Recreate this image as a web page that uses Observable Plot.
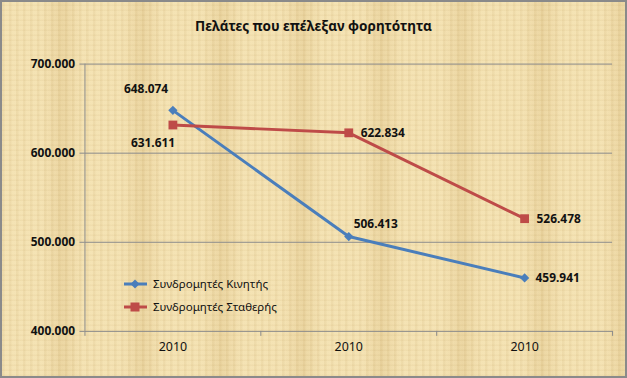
<!DOCTYPE html>
<html><head><meta charset="utf-8">
<script src="https://cdn.jsdelivr.net/npm/d3@7"></script>
<script src="https://cdn.jsdelivr.net/npm/@observablehq/plot@0.6"></script>
<style>
body{margin:0;background:#fff;}
#chart{position:relative;width:627px;height:378px;box-sizing:border-box;border:2px solid #8a8a8a;overflow:hidden;
 background-color:#f0dca9;
 background-image:
  repeating-linear-gradient(90deg, rgba(150,110,40,0.06) 0px, rgba(150,110,40,0.06) 2px, rgba(255,245,210,0.05) 3px, rgba(255,245,210,0.05) 7px),
  repeating-linear-gradient(0deg, rgba(150,110,40,0.05) 0px, rgba(150,110,40,0.05) 1px, rgba(255,245,210,0.04) 2px, rgba(255,245,210,0.04) 5px),
  repeating-linear-gradient(90deg, rgba(255,240,200,0.25) 0px, rgba(255,240,200,0.25) 40px, rgba(190,150,80,0.12) 60px, rgba(255,240,200,0.25) 80px);
 font-family:"Noto Sans",sans-serif;}
#title{position:absolute;left:0;right:0;top:15px;text-align:center;font-weight:bold;font-size:13.5px;color:#111;}
#chart svg{position:absolute;left:-2px;top:-2px;background:transparent;}
#legend{position:absolute;left:121px;top:270px;font-size:11.5px;color:#111;}
#legend div{display:flex;align-items:center;height:23px;}
#legend svg{position:static;margin-right:5px;}
</style></head><body>
<div id="chart"><div id="title">Πελάτες που επέλεξαν  φορητότητα</div><div id="legend"></div></div>
<script>
const categories = ["2010", "2010", "2010"];
const seriesNames = ["Συνδρομητές Κινητής", "Συνδρομητές Σταθερής"];
const mobile = [648074, 506413, 459941];
const fixed = [631611, 622834, 526478];
const yTicks = [400000, 500000, 600000, 700000];
const colors = ["#4a7ebb", "#be4b48"];

const greek = d3.formatLocale({decimal: ",", thousands: ".", grouping: [3], currency: ["", "€"]});
const fmt = greek.format(",.0f");

const rows = [];
categories.forEach((c, i) => {
  rows.push({series: seriesNames[0], idx: i + 1, value: mobile[i]});
  rows.push({series: seriesNames[1], idx: i + 1, value: fixed[i]});
});
const positions = categories.map((c, i) => i + 1);
const boundaries = categories.slice(1).map((c, i) => i + 1.5);

// label placement (style): per series & index: [dx, dy, anchor]
const place = {
  [seriesNames[0]]: [[-27, -21, "middle"], [5, -12, "start"], [11, 0, "start"]],
  [seriesNames[1]]: [[-20, 18, "middle"], [12, 0, "start"], [12, 0, "start"]]
};
const labelMarks = [];
rows.forEach(r => {
  const [dx, dy, ta] = place[r.series][r.idx - 1];
  labelMarks.push(Plot.text([r], {x: "idx", y: "value", text: d => fmt(d.value), dx, dy, textAnchor: ta,
    fontWeight: "bold", fontSize: 12, fill: "#111"}));
});

const plot = Plot.plot({
  width: 627, height: 378,
  marginLeft: 85, marginRight: 11, marginTop: 64, marginBottom: 45,
  style: {fontFamily: "'Noto Sans', sans-serif", background: "transparent", overflow: "visible"},
  x: {domain: [0.5, categories.length + 0.5]},
  y: {domain: [yTicks[0], yTicks[yTicks.length - 1]]},
  color: {domain: seriesNames, range: colors},
  symbol: {domain: seriesNames, range: ["diamond2", "square"]},
  marks: [
    Plot.ruleY(yTicks, {stroke: "#8a8a8a", strokeWidth: 1}),
    Plot.ruleX([0.5], {y1: yTicks[0], y2: yTicks[yTicks.length - 1], stroke: "#8a8a8a"}),
    Plot.axisY({ticks: yTicks, tickFormat: fmt, tickSize: 5, stroke: "#8a8a8a", tickPadding: 5,
      fontWeight: "bold", fontSize: 12, fill: "#111", label: null}),
    Plot.axisX({ticks: positions, tickSize: 0, tickPadding: 11, tickFormat: d => categories[d - 1],
      fontSize: 12.5, fill: "#111", label: null}),
    Plot.axisX({ticks: [0.5, ...boundaries, categories.length + 0.5], tickSize: 5, tickFormat: () => "", stroke: "#8a8a8a", label: null}),
    Plot.line(rows, {x: "idx", y: "value", z: "series", stroke: "series", strokeWidth: 3}),
    Plot.dot(rows.filter(r => r.series === seriesNames[0]), {x: "idx", y: "value", symbol: "series", fill: "series", stroke: "none", r: 4.2}),
    Plot.dot(rows.filter(r => r.series === seriesNames[1]), {x: "idx", y: "value", symbol: "series", fill: "series", stroke: "none", r: 5}),
    ...labelMarks
  ]
});
document.getElementById("chart").appendChild(plot);

const legend = document.getElementById("legend");
seriesNames.forEach((name, i) => {
  const row = document.createElement("div");
  const sym = i === 0
    ? `<path d="M12,3.5 L16.5,8 L12,12.5 L7.5,8 Z" fill="${colors[i]}"/>`
    : `<rect x="7.5" y="3.5" width="9" height="9" fill="${colors[i]}"/>`;
  row.innerHTML = `<svg width="25" height="16"><line x1="1" x2="24" y1="8" y2="8" stroke="${colors[i]}" stroke-width="3"/>${sym}</svg><span>${name}</span>`;
  legend.appendChild(row);
});
</script>
</body></html>
